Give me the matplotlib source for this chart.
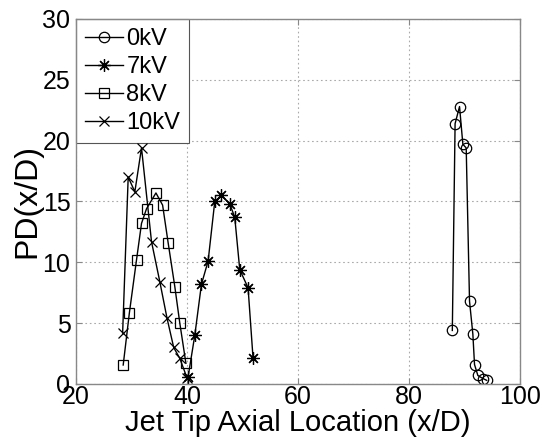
import matplotlib
matplotlib.use("Agg")
import matplotlib.pyplot as plt

plt.rcParams['font.family'] = ['Liberation Sans', 'DejaVu Sans']

# Jet tip axial location (x/D) and PD (x/D) for each applied voltage
x_0kV = [87.8, 88.3, 89.1, 89.7, 90.3, 90.9, 91.5, 91.8, 92.4, 93.3, 94.0]
y_0kV = [4.4, 21.4, 22.8, 19.7, 19.4, 6.8, 4.1, 1.6, 0.7, 0.45, 0.3]

x_7kV = [40.2, 41.4, 42.6, 43.8, 45.0, 46.2, 47.7, 48.6, 49.5, 51.0, 51.9]
y_7kV = [0.6, 4.0, 8.2, 10.1, 15.0, 15.5, 14.8, 13.7, 9.4, 7.9, 2.1]

x_8kV = [28.5, 29.6, 30.9, 31.8, 32.7, 34.4, 35.6, 36.6, 37.8, 38.7, 39.8]
y_8kV = [1.56, 5.8, 10.2, 13.2, 14.4, 15.7, 14.7, 11.6, 8.0, 5.0, 1.7]

x_10kV = [28.4, 29.4, 30.6, 31.8, 33.6, 35.1, 36.4, 37.6, 38.7, 40.0]
y_10kV = [4.2, 17.0, 15.8, 19.4, 11.7, 8.4, 5.4, 3.0, 2.1, 0.5]

x_ticks = [20, 40, 60, 80, 100]
y_ticks = [0, 5, 10, 15, 20, 25, 30]

fig = plt.figure(figsize=(5.43, 4.43), dpi=100)
ax = fig.add_axes([0.140, 0.1332, 0.8177, 0.824])

common = dict(color='black', linewidth=1.0, markerfacecolor='none',
              markeredgecolor='black', markeredgewidth=0.9)
ax.plot(x_0kV, y_0kV, marker='o', markersize=7.5, label='0kV', **common)
ax.plot(x_7kV, y_7kV, marker=(8, 2, 0), markersize=9, label='7kV', **common)
ax.plot(x_8kV, y_8kV, marker='s', markersize=7.5, label='8kV', **common)
ax.plot(x_10kV, y_10kV, marker='x', markersize=7.5, label='10kV', **common)

ax.set_xlim(20, 100)
ax.set_ylim(0, 30)
ax.set_xticks(x_ticks)
ax.set_yticks(y_ticks)
ax.tick_params(axis='both', which='both', direction='in', length=4,
               color='#888888', labelsize=18, top=True, right=True)
ax.tick_params(axis='y', pad=4)
ax.tick_params(axis='x', pad=1)
ax.grid(True, linestyle=(0, (1.5, 2.5)), color='#aaaaaa', linewidth=0.8)
for sp in ax.spines.values():
    sp.set_color('#888888')
    sp.set_linewidth(1.0)

ax.set_xlabel('Jet Tip Axial Location (x/D)', fontsize=21, labelpad=0)
ax.set_ylabel('PD(x/D)', fontsize=23, labelpad=0)

leg = ax.legend(loc='upper left', fontsize=17, handlelength=1.6,
                handletextpad=0.15, labelspacing=0.26, borderpad=0.38,
                borderaxespad=0.0, fancybox=False, framealpha=1.0)
leg.get_frame().set_edgecolor('#555555')
leg.get_frame().set_linewidth(0.8)
leg.set_zorder(1.5)

fig.savefig('out.png', dpi=100)
